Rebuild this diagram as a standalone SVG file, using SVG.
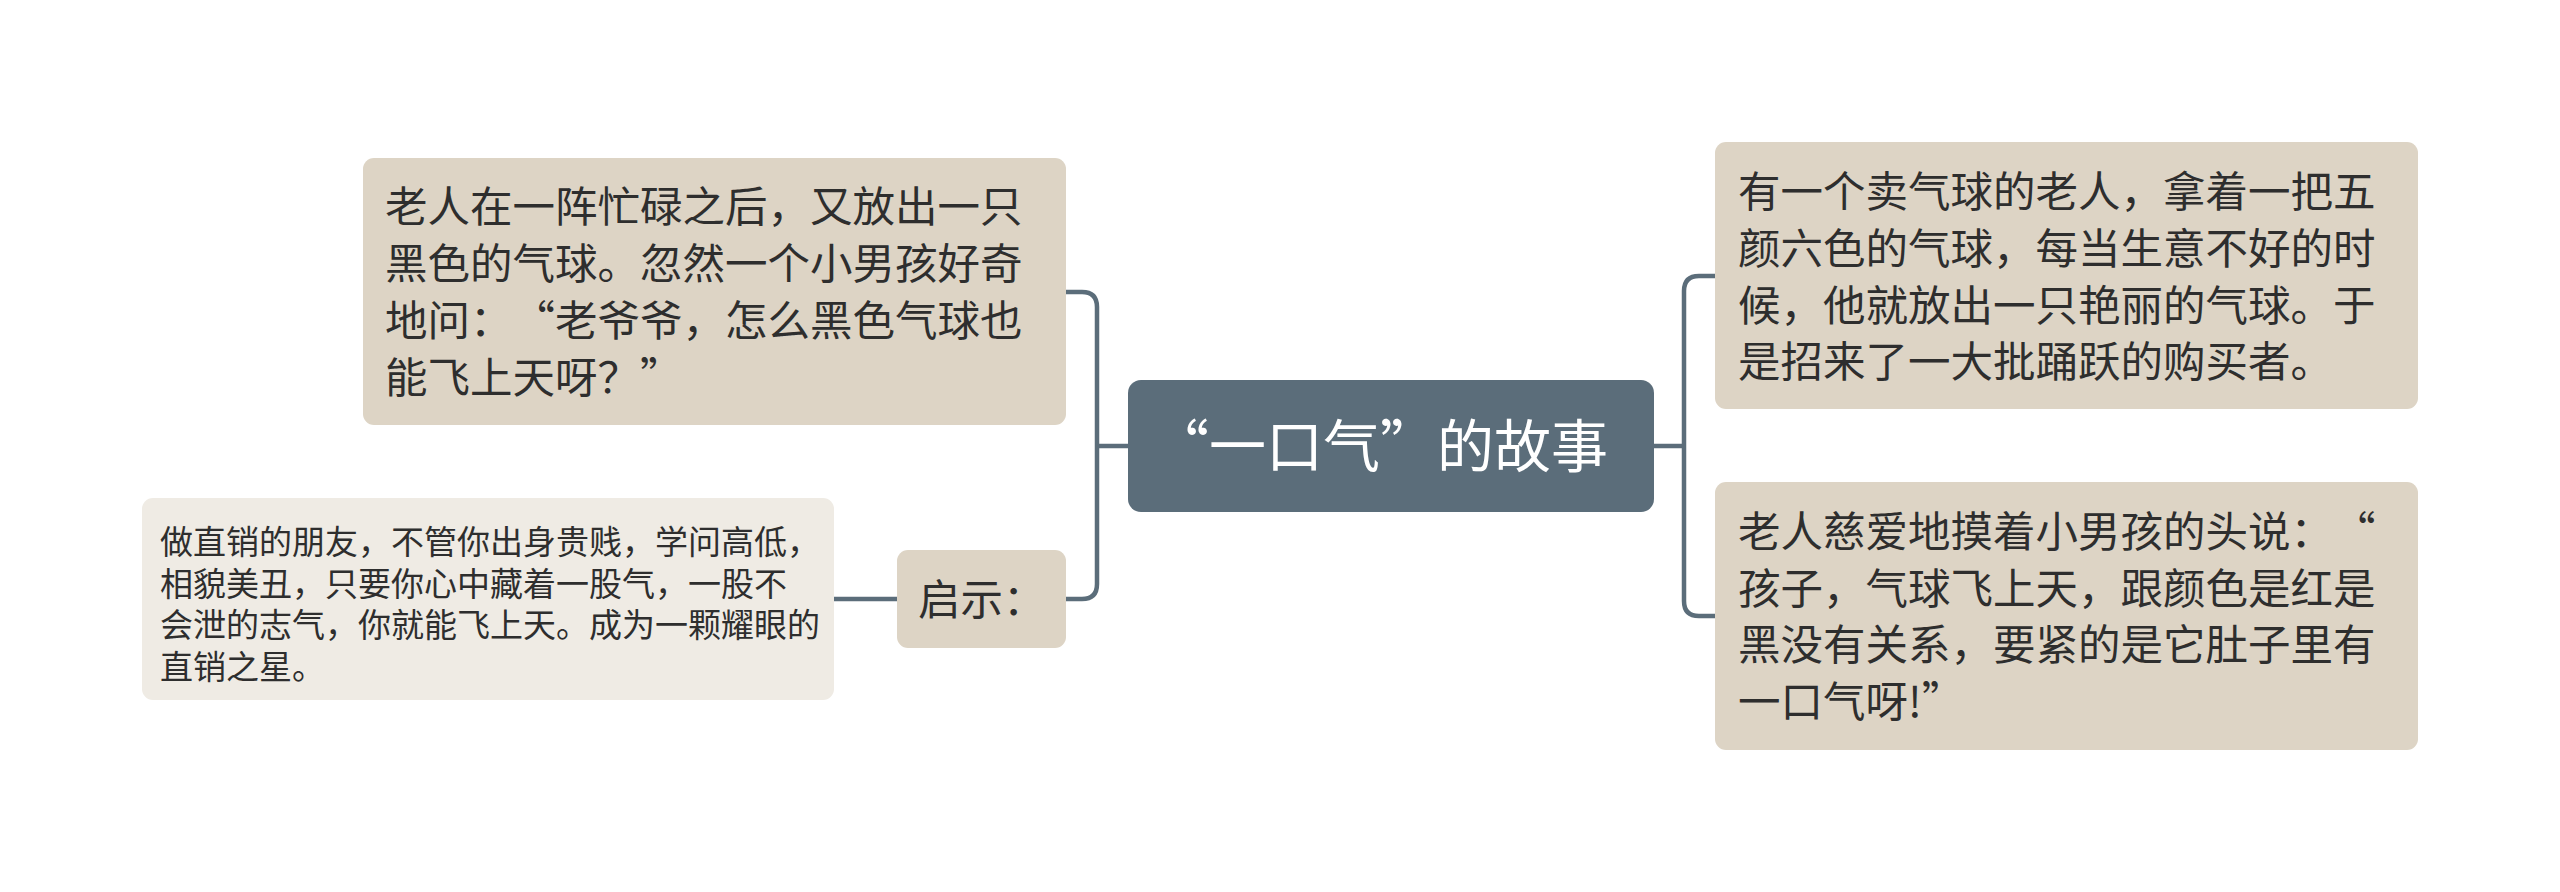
<svg xmlns="http://www.w3.org/2000/svg" width="2560" height="892" viewBox="0 0 2560 892">
<style>
.box{fill:#ddd4c5;}
.light{fill:#efebe4;}
.root{fill:#5b6d7a;}
.t,.rt{font-family:"Noto Sans CJK SC","Noto Sans",sans-serif;text-spacing-trim:space-all;font-kerning:none;font-feature-settings:"palt" 0,"halt" 0,"chws" 0;}
.t{fill:#2e2e2e;}
.t42{font-size:42.5px;}
.t32{font-size:33px;}
.rt{font-size:57px;fill:#ffffff;}
.c{fill:none;stroke:#5b6d7a;stroke-width:4.5;}
</style>
<rect width="2560" height="892" fill="#ffffff"/>
<g id="connectors">
<path class="c" d="M1128,446 H1097"/>
<path class="c" d="M1066,292 H1082 Q1097,292 1097,307 V584 Q1097,599 1082,599 H1066"/>
<path class="c" d="M1654,446 H1684"/>
<path class="c" d="M1715,276 H1699 Q1684,276 1684,291 V601 Q1684,616 1699,616 H1715"/>
<path class="c" d="M897,599 H834"/>
</g>
<g id="root">
<rect class="root" x="1128" y="380" width="526" height="132" rx="13"/>
<text class="rt" x="1152" y="467">“一口气”的故事</text>
</g>
<g id="node-left1">
<rect class="box" x="363" y="158" width="703" height="267" rx="11"/>
<text class="t t42"><tspan x="385" y="222">老人在一阵忙碌之后，又放出一只</tspan><tspan x="385" y="279">黑色的气球。忽然一个小男孩好奇</tspan><tspan x="385" y="336">地问：“老爷爷，怎么黑色气球也</tspan><tspan x="385" y="393">能飞上天呀？”</tspan></text>
</g>
<g id="node-qishi">
<rect class="box" x="897" y="550" width="169" height="98" rx="11"/>
<text class="t t42" x="918" y="615">启示：</text>
</g>
<g id="node-lesson">
<rect class="light" x="142" y="498" width="692" height="202" rx="11"/>
<text class="t t32"><tspan x="160" y="554">做直销的朋友，不管你出身贵贱，学问高低，</tspan><tspan x="160" y="596">相貌美丑，只要你心中藏着一股气，一股不</tspan><tspan x="160" y="637">会泄的志气，你就能飞上天。成为一颗耀眼的</tspan><tspan x="160" y="679">直销之星。</tspan></text>
</g>
<g id="node-right1">
<rect class="box" x="1715" y="142" width="703" height="267" rx="11"/>
<text class="t t42"><tspan x="1738" y="207">有一个卖气球的老人，拿着一把五</tspan><tspan x="1738" y="264">颜六色的气球，每当生意不好的时</tspan><tspan x="1738" y="321">候，他就放出一只艳丽的气球。于</tspan><tspan x="1738" y="377">是招来了一大批踊跃的购买者。</tspan></text>
</g>
<g id="node-right2">
<rect class="box" x="1715" y="482" width="703" height="268" rx="11"/>
<text class="t t42"><tspan x="1738" y="547">老人慈爱地摸着小男孩的头说：“</tspan><tspan x="1738" y="604">孩子，气球飞上天，跟颜色是红是</tspan><tspan x="1738" y="660">黑没有关系，要紧的是它肚子里有</tspan><tspan x="1738" y="717">一口气呀!”</tspan></text>
</g>
</svg>
